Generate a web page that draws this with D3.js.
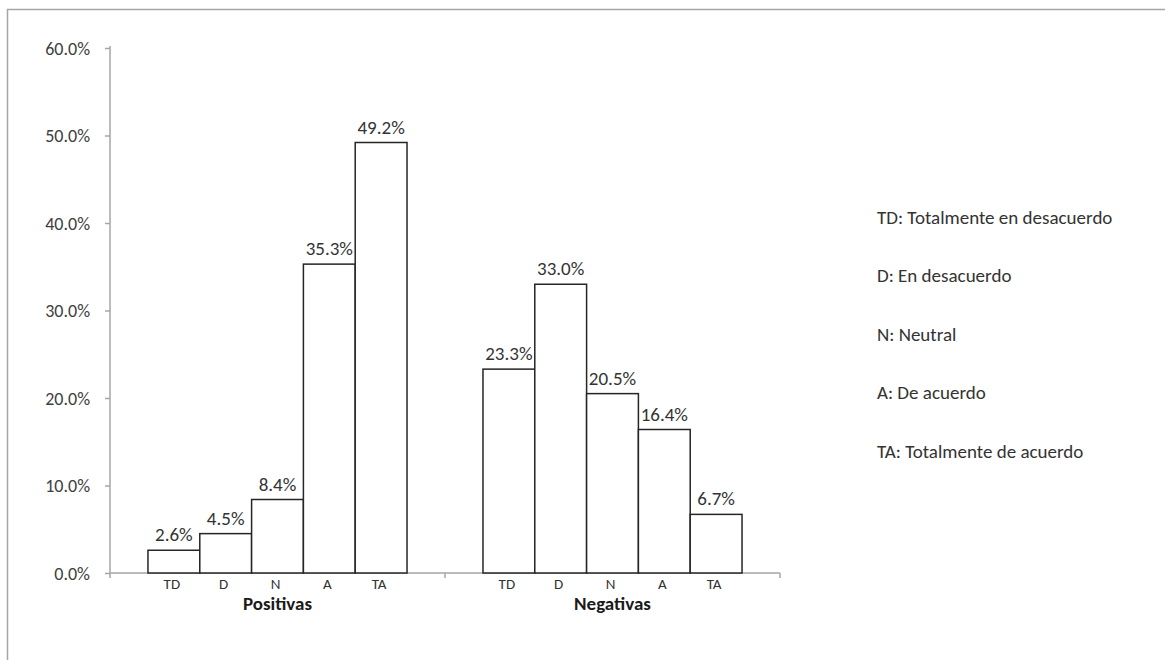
<!DOCTYPE html>
<html>
<head>
<meta charset="utf-8">
<script src="https://cdn.jsdelivr.net/npm/d3@7/dist/d3.min.js"></script>
<style>
  html, body { margin: 0; padding: 0; background: #fff; }
  svg { display: block; }
  text { font-family: Carlito, Lato, "Open Sans", sans-serif; }
</style>
</head>
<body>
<svg id="chart" width="1165" height="660"></svg>
<script>
// Response distribution for positive and negative statements
const groups = ["Positivas", "Negativas"];
const categories = ["TD", "D", "N", "A", "TA"];
const positivas = [0.026, 0.045, 0.084, 0.353, 0.492];
const negativas = [0.233, 0.330, 0.205, 0.164, 0.067];
const yTicks = [0, 0.1, 0.2, 0.3, 0.4, 0.5, 0.6];
const legendItems = [
  "TD: Totalmente en desacuerdo",
  "D: En desacuerdo",
  "N: Neutral",
  "A: De acuerdo",
  "TA: Totalmente de acuerdo"
];

const seriesByGroup = { Positivas: positivas, Negativas: negativas };

const svg = d3.select("#chart");
const W = 1165, H = 660;

// Chart frame (only top and left edges fall inside the canvas)
svg.append("path")
  .attr("d", `M7.5,${H} L7.5,9.5 L${W},9.5`)
  .attr("fill", "none")
  .attr("stroke", "#a6a6a6")
  .attr("stroke-width", 1.5);

const plot = { left: 110, right: 780, top: 48, bottom: 573 };

const y = d3.scaleLinear().domain([0, 0.6]).range([plot.bottom, plot.top]);
const x0 = d3.scaleBand().domain(groups).range([plot.left, plot.right]).padding(0);
const x1 = d3.scaleBand().domain(categories).range([0, x0.bandwidth()])
  .paddingInner(0).paddingOuter(0.733);

const fmt = d3.format(".1%");
const axisColor = "#a6a6a6";

// Y axis
const yAxis = svg.append("g")
  .attr("transform", `translate(${plot.left},0)`)
  .call(d3.axisLeft(y).tickValues(yTicks).tickFormat(fmt).tickSize(5).tickPadding(15));
yAxis.select(".domain").attr("stroke", axisColor).attr("stroke-width", 1.5)
  .attr("d", `M0,${plot.top - 2}V${plot.bottom}`);
yAxis.selectAll(".tick line").attr("stroke", axisColor).attr("stroke-width", 1.5);
yAxis.selectAll(".tick text")
  .attr("fill", "#404040")
  .style("font-size", "18px")
  .attr("dy", "0.36em");

// X axis: line with ticks at group boundaries
const xEdges = [plot.left, ...groups.map(g => x0(g) + x0.bandwidth())];
svg.append("line")
  .attr("x1", plot.left).attr("x2", plot.right)
  .attr("y1", plot.bottom).attr("y2", plot.bottom)
  .attr("stroke", axisColor).attr("stroke-width", 1.5);
svg.selectAll(".xtick").data(xEdges).join("line")
  .attr("class", "xtick")
  .attr("x1", d => d).attr("x2", d => d)
  .attr("y1", plot.bottom).attr("y2", plot.bottom + 5)
  .attr("stroke", axisColor).attr("stroke-width", 1.5);

// Bars, value labels and category labels
groups.forEach(g => {
  const vals = seriesByGroup[g];
  const gg = svg.append("g").attr("transform", `translate(${x0(g)},0)`);
  const rows = categories.map((c, i) => ({ c, v: vals[i] }));

  gg.selectAll("rect").data(rows).join("rect")
    .attr("x", d => x1(d.c))
    .attr("y", d => y(d.v))
    .attr("width", x1.bandwidth())
    .attr("height", d => y(0) - y(d.v))
    .attr("fill", "#fff")
    .attr("stroke", "#262626")
    .attr("stroke-width", 1.5);

  gg.selectAll(".val").data(rows).join("text")
    .attr("class", "val")
    .attr("x", d => x1(d.c) + x1.bandwidth() / 2)
    .attr("y", d => y(d.v) - 9)
    .attr("text-anchor", "middle")
    .attr("fill", "#333")
    .style("font-size", "19px")
    .text(d => fmt(d.v));

  gg.selectAll(".cat").data(rows).join("text")
    .attr("class", "cat")
    .attr("x", d => x1(d.c) + x1.bandwidth() / 2 - 2)
    .attr("y", plot.bottom + 16)
    .attr("text-anchor", "middle")
    .attr("fill", "#333")
    .style("font-size", "15px")
    .text(d => d.c);

  gg.append("text")
    .attr("x", x0.bandwidth() / 2)
    .attr("y", plot.bottom + 37)
    .attr("text-anchor", "middle")
    .attr("fill", "#1a1a1a")
    .style("font-size", "19px")
    .style("font-weight", "bold")
    .text(g);
});

// Abbreviation key
svg.selectAll(".legend").data(legendItems).join("text")
  .attr("class", "legend")
  .attr("x", 877)
  .attr("y", (d, i) => 217 + i * 58.5)
  .attr("dy", "0.36em")
  .attr("fill", "#333")
  .style("font-size", "19px")
  .text(d => d);
</script>
</body>
</html>
